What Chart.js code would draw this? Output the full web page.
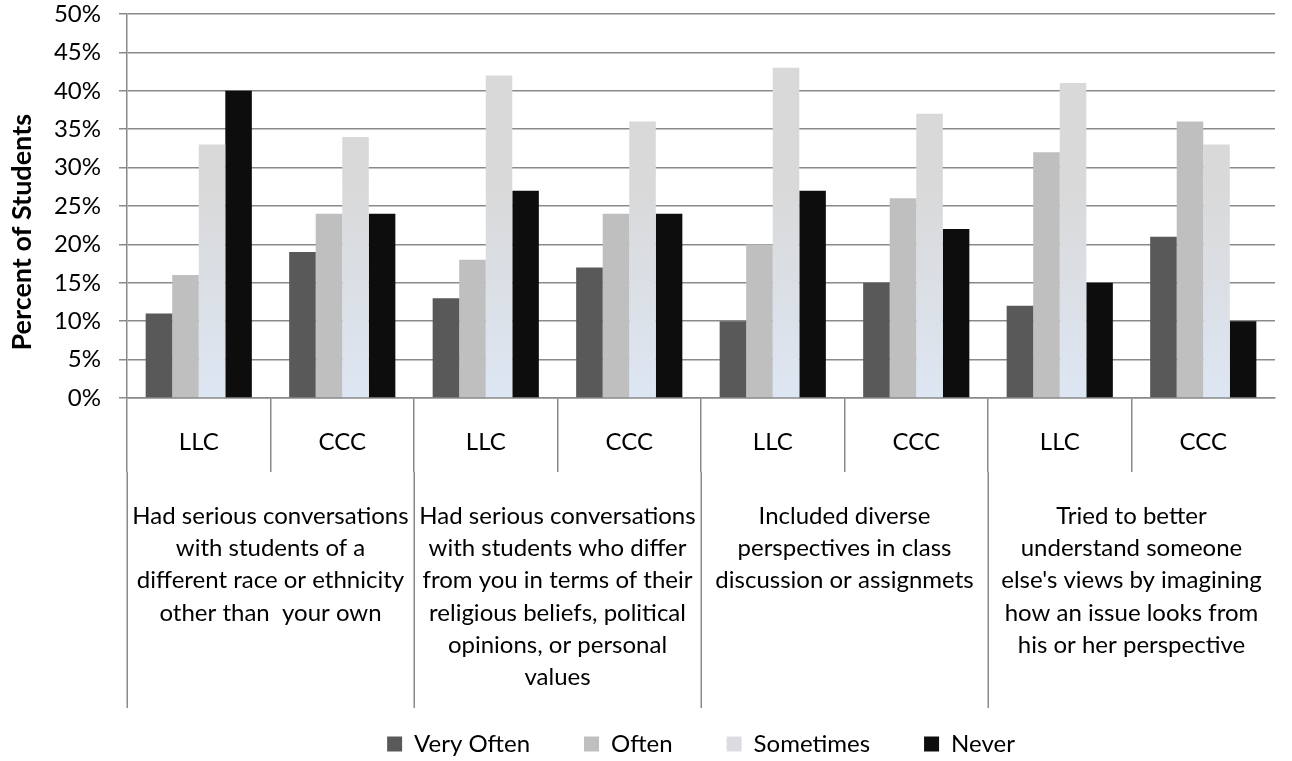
<!DOCTYPE html>
<html>
<head>
<meta charset="utf-8">
<script src="https://cdn.jsdelivr.net/npm/chart.js@4.4.0/dist/chart.umd.min.js"></script>
<style>
  body { margin: 0; background: #fff; }
  #wrap { width: 1292px; height: 761px; }
</style>
</head>
<body>
<div id="wrap"><canvas id="grafico"></canvas></div>
<script>
// Categorias (fila inferior del eje x) y grupos (fila superior)
var categories = ['LLC', 'CCC', 'LLC', 'CCC', 'LLC', 'CCC', 'LLC', 'CCC'];
var groupLabels = [
    ['Had serious conversations', 'with students of a', 'different race or ethnicity', 'other than  your own'],
    ['Had serious conversations', 'with students who differ', 'from you in terms of their', 'religious beliefs, political', 'opinions, or personal', 'values'],
    ['Included diverse', 'perspectives in class', 'discussion or assignmets'],
    ['Tried to better', 'understand someone', "else's views by imagining", 'how an issue looks from', 'his or her perspective']
];

// Series (porcentaje de estudiantes)
var seriesNames = ['Very Often', 'Often', 'Sometimes', 'Never'];
var veryOften = [11, 19, 13, 17, 10, 15, 12, 21];
var often     = [16, 24, 18, 24, 20, 26, 32, 36];
var sometimes = [33, 34, 42, 36, 43, 37, 41, 33];
var never     = [40, 24, 27, 24, 27, 22, 15, 10];

// Eje y
var yMin = 0;
var yMax = 50;
var yStep = 5;

var gridColor = '#8a8a8a';
var fontName = 'Lato, "Open Sans", sans-serif';

// degradado gris -> azul claro para "Sometimes"
function sometimesFill(ctx) {
    var chart = ctx.chart;
    var area = chart.chartArea;
    if (!area) return '#d9d9d9';
    var g = chart.ctx.createLinearGradient(0, area.top, 0, area.bottom);
    g.addColorStop(0, '#d9d9d9');
    g.addColorStop(0.45, '#d9d9d9');
    g.addColorStop(1, '#dde6f3');
    return g;
}

// Etiquetas de grupo y lineas separadoras bajo el eje x
var groupLabelPlugin = {
    id: 'groupLabels',
    afterDraw: function(chart) {
        var x = chart.scales.x;
        var c = chart.ctx;
        var half = (x.getPixelForValue(1) - x.getPixelForValue(0)) / 2;
        c.save();
        c.strokeStyle = gridColor;
        c.lineWidth = 1.5;
        c.fillStyle = '#000';
        c.font = '24px ' + fontName;
        c.textAlign = 'center';
        c.textBaseline = 'middle';
        groupLabels.forEach(function(lines, g) {
            var left = x.getPixelForValue(2 * g) - half;
            var right = x.getPixelForValue(2 * g + 1) + half;
            var lx = Math.round(left) + 0.25;
            c.beginPath();
            c.moveTo(lx, x.top + 74);
            c.lineTo(lx, x.top + 310);
            c.stroke();
            lines.forEach(function(t, i) {
                c.fillText(t, (left + right) / 2, x.top + 118 + i * 32.3);
            });
        });
        c.restore();
    }
};

var datos = {
    labels: categories,
    datasets: [
        { label: seriesNames[0], data: veryOften, backgroundColor: '#595959' },
        { label: seriesNames[1], data: often, backgroundColor: '#bfbfbf' },
        { label: seriesNames[2], data: sometimes, backgroundColor: sometimesFill },
        { label: seriesNames[3], data: never, backgroundColor: '#0d0d0d' }
    ]
};

var config = {
    type: 'bar',
    data: datos,
    options: {
        responsive: true,
        maintainAspectRatio: false,
        animation: false,
        layout: { padding: { top: 14, right: 17, bottom: -5, left: 0 } },
        datasets: {
            bar: { barPercentage: 1, categoryPercentage: 0.74, borderWidth: 0 }
        },
        plugins: {
            legend: {
                position: 'bottom',
                fullSize: false,
                labels: {
                    boxWidth: 15,
                    boxHeight: 15,
                    padding: 54,
                    color: '#000',
                    font: { family: fontName, size: 24 },
                    generateLabels: function(chart) {
                        var items = Chart.defaults.plugins.legend.labels.generateLabels(chart);
                        items[2].fillStyle = '#dadce1';
                        items.forEach(function(it) { it.lineWidth = 0; });
                        return items;
                    }
                }
            },
            tooltip: { enabled: false }
        },
        scales: {
            x: {
                grid: {
                    display: true,
                    drawOnChartArea: false,
                    offset: true,
                    tickLength: 74,
                    lineWidth: 1.5,
                    color: function(ctx) { return ctx.type === 'tick' ? gridColor : 'rgba(0,0,0,0)'; }
                },
                border: { color: gridColor, width: 1.5 },
                ticks: {
                    color: '#000',
                    font: { family: fontName, size: 24 },
                    padding: -44,
                    maxRotation: 0,
                    autoSkip: false
                },
                afterFit: function(s) { s.height = 280; }
            },
            y: {
                min: yMin,
                max: yMax,
                ticks: {
                    stepSize: yStep,
                    padding: 18,
                    color: '#000',
                    font: { family: fontName, size: 24 },
                    callback: function(v) { return v + '%'; }
                },
                grid: { color: gridColor, lineWidth: 1.5, tickLength: 8 },
                border: { color: gridColor, width: 1.5 },
                title: {
                    display: true,
                    // espacios al final para bajar el titulo como en el original
                    text: 'Percent of Students        ',
                    color: '#000',
                    font: { family: fontName, size: 27, weight: 'bold' },
                    padding: { top: 6, bottom: 0 }
                },
                afterFit: function(s) {
                    s.width = 127;
                    s.paddingTop = 0;
                    s.paddingBottom = 0;
                }
            }
        }
    },
    plugins: [groupLabelPlugin]
};

var grafico = new Chart(document.getElementById('grafico'), config);
</script>
</body>
</html>
